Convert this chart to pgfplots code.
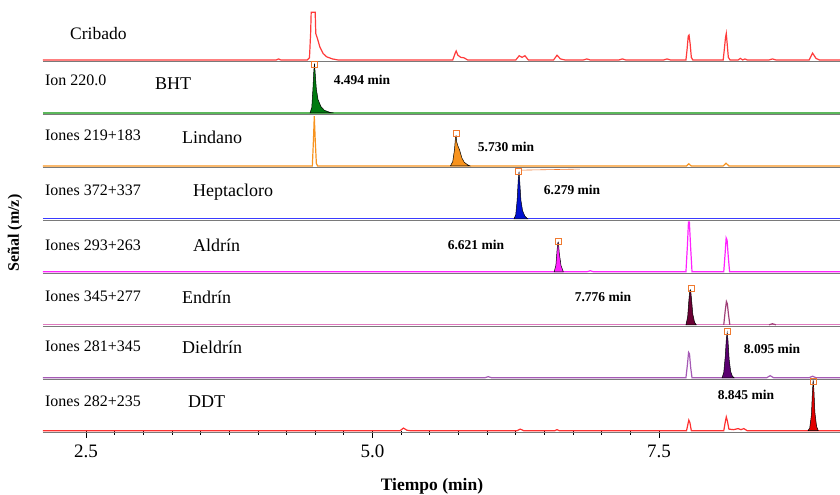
\documentclass[border=0pt]{standalone}
\usepackage{pgfplots}
\pgfplotsset{compat=1.18}
\usepackage{fontspec}
\setmainfont{Liberation Serif}

\definecolor{cribred}{HTML}{FF3A3A}
\definecolor{bhtline}{HTML}{5CB85C}
\definecolor{bhtfill}{HTML}{007A10}
\definecolor{lindor}{HTML}{F7931E}
\definecolor{heptline}{HTML}{3A3AFF}
\definecolor{heptfill}{HTML}{0010D0}
\definecolor{aldmag}{HTML}{FF22FF}
\definecolor{endline}{HTML}{E07AC0}
\definecolor{endpeak}{HTML}{A04078}
\definecolor{endfill}{HTML}{6A0034}
\definecolor{dielline}{HTML}{A55AB5}
\definecolor{dielfill}{HTML}{5A0070}
\definecolor{ddtline}{HTML}{FF3030}
\definecolor{ddtfill}{HTML}{E00000}
\definecolor{marksq}{HTML}{F07A30}
\definecolor{sep}{HTML}{7A7A7A}

\begin{document}
\begin{tikzpicture}
\begin{axis}[
    scale only axis,
    width=797pt, height=423.7pt,
    xmin=2.1248, xmax=9.0794, ymin=0, ymax=8,
    clip=false,
    axis line style={draw=none},
    ytick=\empty,
    xtick={2.5,5,7.5},
    minor x tick num=9,
    xtick pos=bottom,
    tick align=outside,
    major tick length=7pt, minor tick length=4pt,
    tick style={black, line width=0.8pt},
    xticklabel style={/pgf/number format/.cd, fixed, fixed zerofill, precision=1,
        /pgf/number format/assume math mode=true},
    ticklabel style={font=\fontsize{19}{21}\selectfont, yshift=-4pt},
]
% separators
\addplot[sep, line width=1.5pt] coordinates {(2.1248,6.97) (9.0794,6.97)};
\addplot[sep, line width=1.5pt] coordinates {(2.1248,5.97) (9.0794,5.97)};
\addplot[sep, line width=1.5pt] coordinates {(2.1248,4.97) (9.0794,4.97)};
\addplot[sep, line width=1.5pt] coordinates {(2.1248,3.97) (9.0794,3.97)};
\addplot[sep, line width=1.5pt] coordinates {(2.1248,2.97) (9.0794,2.97)};
\addplot[sep, line width=1.5pt] coordinates {(2.1248,1.97) (9.0794,1.97)};
\addplot[sep, line width=1.5pt] coordinates {(2.1248,0.97) (9.0794,0.97)};
\addplot[sep, line width=1.5pt] coordinates {(2.1248,-0.03) (9.0794,-0.03)};

% Cribado
\addplot[cribred, line width=1.2pt] coordinates {
(2.1248,7) (4.16,7) (4.18,7.02) (4.20,7) (4.43,7) (4.45,7.04) (4.46,7.5) (4.465,7.9)
(4.50,7.9) (4.505,7.5) (4.52,7.4) (4.54,7.25) (4.57,7.12) (4.60,7.06) (4.65,7.02) (4.70,7)
(5.70,7) (5.72,7.12) (5.73,7.17) (5.745,7.09) (5.77,7.05) (5.80,7.04) (5.83,7)
(6.25,7) (6.28,7.08) (6.305,7.05) (6.33,7.08) (6.36,7) (6.58,7) (6.61,7.09) (6.64,7.02) (6.68,7)
(6.84,7) (6.87,7.02) (6.90,7) (7.15,7) (7.18,7.02) (7.21,7) (7.54,7) (7.57,7.02) (7.60,7)
(7.735,7) (7.745,7.2) (7.755,7.45) (7.762,7.47) (7.772,7.3) (7.782,7.05) (7.795,7)
(8.06,7) (8.07,7.2) (8.08,7.42) (8.087,7.5) (8.095,7.3) (8.105,7.05) (8.12,7)
(8.19,7) (8.21,7.03) (8.23,7) (8.25,7.02) (8.27,7) (8.46,7) (8.49,7.02) (8.52,7)
(8.81,7) (8.84,7.13) (8.87,7.03) (8.90,7) (9.0794,7)};

% BHT
\addplot[bhtline, line width=1.2pt] coordinates {(2.1248,6) (9.0794,6)};
\addplot[fill=bhtfill, draw=black, line width=0.5pt] coordinates {
(4.455,6) (4.47,6.1) (4.48,6.45) (4.488,6.8) (4.494,6.93) (4.50,6.75) (4.51,6.45)
(4.525,6.25) (4.55,6.12) (4.58,6.05) (4.63,6.01) (4.66,6)} -- cycle;

% Lindano
\addplot[lindor, line width=1.2pt] coordinates {
(2.1248,5) (4.475,5) (4.485,5.5) (4.492,5.94) (4.50,5.5) (4.51,5.05) (4.52,5)
(7.74,5) (7.76,5.04) (7.78,5) (8.06,5) (8.085,5.05) (8.11,5) (9.0794,5)};
\addplot[fill=lindor, draw=black, line width=0.5pt] coordinates {
(5.68,5) (5.70,5.08) (5.715,5.3) (5.725,5.56) (5.73,5.57) (5.735,5.45) (5.745,5.38)
(5.76,5.3) (5.78,5.15) (5.80,5.07) (5.83,5.02) (5.85,5)} -- cycle;

% Heptacloro
\addplot[heptline, line width=1.2pt] coordinates {(2.1248,4) (9.0794,4)};
\addplot[fill=heptfill, draw=black, line width=0.5pt] coordinates {
(6.235,4) (6.25,4.08) (6.262,4.35) (6.272,4.75) (6.279,4.89) (6.285,4.7) (6.295,4.35)
(6.31,4.15) (6.33,4.05) (6.355,4)} -- cycle;
\addplot[marksq, line width=0.6pt] coordinates {(6.30,4.92) (6.81,4.94)};

% Aldrin
\addplot[aldmag, line width=1.2pt] coordinates {
(2.1248,3) (6.87,3) (6.90,3.02) (6.93,3) (7.735,3) (7.748,3.5) (7.757,3.94) (7.765,3.94)
(7.775,3.5) (7.788,3) (8.065,3) (8.077,3.35) (8.086,3.64) (8.094,3.6) (8.104,3.3)
(8.116,3) (9.0794,3)};
\addplot[fill=aldmag, draw=black, line width=0.5pt] coordinates {
(6.585,3) (6.60,3.12) (6.61,3.4) (6.617,3.55) (6.622,3.56) (6.63,3.35) (6.645,3.12) (6.665,3)} -- cycle;

% Endrin
\addplot[endline, line width=1.2pt] coordinates {(2.1248,2) (9.0794,2)};
\addplot[endpeak, line width=1.2pt] coordinates {
(8.065,2) (8.077,2.25) (8.088,2.44) (8.096,2.4) (8.106,2.2) (8.118,2)};
\addplot[endpeak, line width=1.2pt] coordinates {(8.46,2) (8.49,2.02) (8.52,2)};
\addplot[fill=endfill, draw=black, line width=0.5pt] coordinates {
(7.735,2) (7.75,2.15) (7.76,2.45) (7.768,2.64) (7.776,2.66) (7.783,2.5) (7.795,2.2)
(7.81,2.05) (7.825,2)} -- cycle;

% Dieldrin
\addplot[dielline, line width=1.2pt] coordinates {
(2.1248,1) (5.98,1) (6.01,1.02) (6.04,1) (7.735,1) (7.748,1.25) (7.758,1.48) (7.766,1.45)
(7.776,1.2) (7.788,1) (8.44,1) (8.47,1.04) (8.50,1) (8.81,1) (8.84,1.03) (8.87,1) (9.0794,1)};
\addplot[fill=dielfill, draw=black, line width=0.5pt] coordinates {
(8.05,1) (8.065,1.1) (8.078,1.4) (8.088,1.75) (8.095,1.85) (8.102,1.7) (8.112,1.35)
(8.125,1.12) (8.14,1.03) (8.155,1)} -- cycle;

% DDT
\addplot[ddtline, line width=1.2pt] coordinates {
(2.1248,0) (5.24,0) (5.27,0.05) (5.30,0.01) (5.33,0) (6.26,0) (6.29,0.03) (6.32,0)
(6.59,0) (6.61,0.02) (6.63,0) (7.74,0) (7.752,0.12) (7.76,0.2) (7.77,0.15) (7.782,0)
(8.065,0) (8.077,0.15) (8.087,0.26) (8.097,0.18) (8.11,0.03) (8.15,0.02) (8.19,0.04)
(8.215,0.02) (8.24,0.04) (8.27,0) (9.0794,0)};
\addplot[fill=ddtfill, draw=black, line width=0.5pt] coordinates {
(8.80,0) (8.815,0.05) (8.83,0.3) (8.838,0.7) (8.845,0.96) (8.852,0.75) (8.86,0.35)
(8.875,0.08) (8.89,0)} -- cycle;

% peak markers
\addplot[only marks, mark=square, mark size=3pt, mark options={draw=marksq, line width=1pt}] coordinates {
(4.494,6.92) (5.73,5.62) (6.273,4.89) (6.621,3.58) (7.78,2.68) (8.095,1.88) (8.845,0.93)};

% panel labels
\begin{scope}[every node/.style={anchor=west, inner sep=0pt, font=\fontsize{16}{18}\selectfont}]
\node at (axis cs:2.360,7.509) {\fontsize{17.5}{20}\selectfont Cribado};
\node at (axis cs:2.142,6.622) {Ion 220.0};
\node at (axis cs:3.102,6.546) {\fontsize{18}{20}\selectfont BHT};
\node at (axis cs:2.142,5.583) {Iones 219+183};
\node at (axis cs:3.338,5.546) {\fontsize{18}{20}\selectfont Lindano};
\node at (axis cs:2.142,4.545) {Iones 372+337};
\node at (axis cs:3.434,4.508) {\fontsize{18}{20}\selectfont Heptacloro};
\node at (axis cs:2.142,3.506) {Iones 293+263};
\node at (axis cs:3.434,3.506) {\fontsize{18}{20}\selectfont Aldrín};
\node at (axis cs:2.142,2.543) {Iones 345+277};
\node at (axis cs:3.338,2.525) {\fontsize{18}{20}\selectfont Endrín};
\node at (axis cs:2.142,1.599) {Iones 281+345};
\node at (axis cs:3.338,1.580) {\fontsize{18}{20}\selectfont Dieldrín};
\node at (axis cs:2.142,0.561) {Iones 282+235};
\node at (axis cs:3.390,0.542) {\fontsize{18}{20}\selectfont DDT};
\end{scope}
% retention times
\begin{scope}[every node/.style={inner sep=0pt, font=\fontsize{13.5}{15}\selectfont\bfseries}]
\node at (axis cs:4.908,6.622) {4.494 min};
\node at (axis cs:6.165,5.357) {5.730 min};
\node at (axis cs:6.741,4.545) {6.279 min};
\node at (axis cs:5.903,3.506) {6.621 min};
\node at (axis cs:7.011,2.525) {7.776 min};
\node at (axis cs:8.486,1.543) {8.095 min};
\node at (axis cs:8.259,0.674) {8.845 min};
\end{scope}
% axis labels
\node[font=\fontsize{17.5}{19}\selectfont\bfseries] at (axis cs:5.519,-1.057) {Tiempo (min)};
\node[rotate=90, font=\fontsize{16}{18}\selectfont\bfseries] at (axis cs:1.880,3.733) {Señal (m/z)};

\coordinate (bbsw) at (axis cs:1.7496,-1.1952);
\coordinate (bbne) at (axis cs:9.0794,8.1325);
\end{axis}
\pgfresetboundingbox
\path[use as bounding box] (bbsw) rectangle (bbne);
\end{tikzpicture}
\end{document}
